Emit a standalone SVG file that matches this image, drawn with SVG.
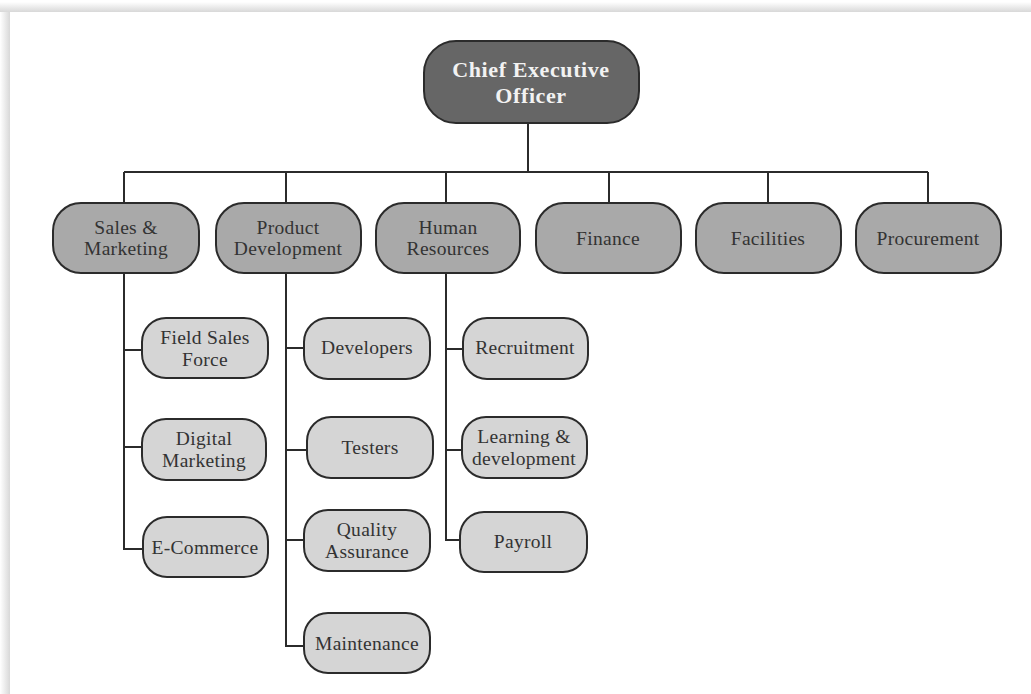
<svg xmlns="http://www.w3.org/2000/svg" width="1031" height="694" viewBox="0 0 1031 694">
<defs>
<linearGradient id="shTop" x1="0" y1="0" x2="0" y2="1">
<stop offset="0" stop-color="#ffffff"/>
<stop offset="1" stop-color="#d8d8d8"/>
</linearGradient>
<linearGradient id="shLeft" x1="0" y1="0" x2="1" y2="0">
<stop offset="0" stop-color="#ffffff"/>
<stop offset="1" stop-color="#d8d8d8"/>
</linearGradient>
<style>
.l1 rect{fill:#a9a9a9;stroke:#2b2b2b;stroke-width:2}
.l2 rect{fill:#d5d5d5;stroke:#2b2b2b;stroke-width:2}
.ceo rect{fill:#666666;stroke:#2b2b2b;stroke-width:2}
text{font-family:"Liberation Serif","Times New Roman",serif;font-size:19.5px;letter-spacing:0.3px;fill:#333333;text-anchor:middle}
.ceo text{font-weight:bold;fill:#f2f2f2;font-size:22px;letter-spacing:0.6px}
#connectors path{fill:none;stroke:#2b2b2b;stroke-width:2}
</style>
</defs>
<rect x="0" y="0" width="1031" height="694" fill="#ffffff"/>
<rect x="0" y="2" width="1031" height="10" fill="url(#shTop)"/>
<rect x="0" y="12" width="10" height="682" fill="url(#shLeft)"/>
<rect x="10" y="12" width="1021" height="682" fill="#ffffff"/>

<g id="connectors">
<path d="M528 123V172M124 172H928"/>
<path d="M124 172V203M286 172V203M446 172V203M609 172V203M768 172V203M928 172V203"/>
<path d="M124 273V549H143M124 350H142M124 447H142"/>
<path d="M286 273V646H304M286 348H304M286 450H307M286 540H304"/>
<path d="M446 273V540H460M446 349H463M446 450H462"/>
</g>

<g id="ceo" class="ceo">
<rect x="424" y="41" width="215" height="82" rx="32"/>
<text x="531" y="77">Chief Executive</text>
<text x="531" y="103">Officer</text>
</g>

<g id="sales" class="l1">
<rect x="53" y="203" width="146" height="70" rx="28"/>
<text x="126" y="234">Sales &amp;</text>
<text x="126" y="255">Marketing</text>
</g>
<g id="product" class="l1">
<rect x="216" y="203" width="145" height="70" rx="28"/>
<text x="288" y="234">Product</text>
<text x="288" y="255">Development</text>
</g>
<g id="hr" class="l1">
<rect x="376" y="203" width="144" height="70" rx="28"/>
<text x="448" y="234">Human</text>
<text x="448" y="255">Resources</text>
</g>
<g id="finance" class="l1">
<rect x="536" y="203" width="145" height="70" rx="28"/>
<text x="608" y="245">Finance</text>
</g>
<g id="facilities" class="l1">
<rect x="696" y="203" width="145" height="70" rx="28"/>
<text x="768" y="245">Facilities</text>
</g>
<g id="procurement" class="l1">
<rect x="856" y="203" width="145" height="70" rx="28"/>
<text x="928" y="245">Procurement</text>
</g>

<g id="fieldsales" class="l2">
<rect x="142" y="318" width="126" height="60" rx="24"/>
<text x="205" y="344">Field Sales</text>
<text x="205" y="366">Force</text>
</g>
<g id="digital" class="l2">
<rect x="142" y="419" width="124" height="61" rx="24"/>
<text x="204" y="445">Digital</text>
<text x="204" y="467">Marketing</text>
</g>
<g id="ecommerce" class="l2">
<rect x="143" y="517" width="125" height="60" rx="24"/>
<text x="205" y="554">E-Commerce</text>
</g>

<g id="developers" class="l2">
<rect x="304" y="318" width="126" height="61" rx="24"/>
<text x="367" y="354">Developers</text>
</g>
<g id="testers" class="l2">
<rect x="307" y="417" width="126" height="61" rx="24"/>
<text x="370" y="454">Testers</text>
</g>
<g id="qa" class="l2">
<rect x="304" y="510" width="126" height="61" rx="24"/>
<text x="367" y="536">Quality</text>
<text x="367" y="558">Assurance</text>
</g>
<g id="maintenance" class="l2">
<rect x="304" y="613" width="126" height="60" rx="24"/>
<text x="367" y="650">Maintenance</text>
</g>

<g id="recruitment" class="l2">
<rect x="463" y="318" width="125" height="61" rx="24"/>
<text x="525" y="354">Recruitment</text>
</g>
<g id="learning" class="l2">
<rect x="462" y="417" width="125" height="61" rx="24"/>
<text x="524" y="443">Learning &amp;</text>
<text x="524" y="465">development</text>
</g>
<g id="payroll" class="l2">
<rect x="460" y="512" width="127" height="60" rx="24"/>
<text x="523" y="548">Payroll</text>
</g>
</svg>
